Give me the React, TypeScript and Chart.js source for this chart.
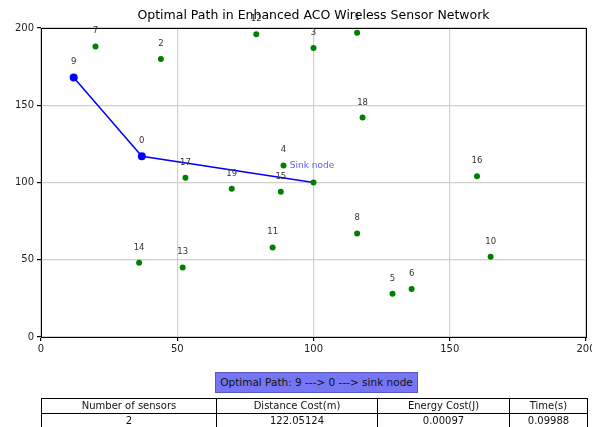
import React, { useEffect, useRef } from "react";
import { Chart, registerables } from "chart.js";

Chart.register(...registerables);

const sensorIds = [0,1,2,3,4,5,6,7,8,9,10,11,12,13,14,15,16,17,18,19];
const sensorX = [37,116,44,100,89,129,136,20,116,12,165,85,79,52,36,88,160,53,118,70];
const sensorY = [117,197,180,187,111,28,31,188,67,168,52,58,196,45,48,94,104,103,142,96];
const pathX = [12, 37, 100];
const pathY = [168, 117, 100];
const sinkX = [100];
const sinkY = [100];
const axisTicks = [0, 50, 100, 150, 200];
const titleText = "Optimal Path in Enhanced ACO Wireless Sensor Network";
const pathText = "Optimal Path: 9 ---> 0 ---> sink node";
const tableHeaders = ["Number of sensors", "Distance Cost(m)", "Energy Cost(J)", "Time(s)"];
const tableValues = ["2", "122.05124", "0.00097", "0.09988"];
const colWidths = [175, 161, 132, 78];

const FONT = "'DejaVu Sans', sans-serif";

export default function App() {
  const ref = useRef<HTMLCanvasElement | null>(null);

  useEffect(() => {
    if (!ref.current) return;
    const labelPlugin = {
      id: "labels",
      afterDatasetsDraw(chart: any) {
        const ctx = chart.ctx;
        const xs = chart.scales.x;
        const ys = chart.scales.y;
        const ca = chart.chartArea;
        ctx.save();
        ctx.strokeStyle = "#000";
        ctx.lineWidth = 1;
        ctx.strokeRect(Math.round(ca.left) + 0.5, Math.round(ca.top) + 0.5, Math.round(ca.right - ca.left), Math.round(ca.bottom - ca.top));
        ctx.font = "8.5px " + FONT;
        ctx.fillStyle = "#333";
        ctx.textAlign = "center";
        ctx.textBaseline = "bottom";
        sensorIds.forEach((id, i) => {
          const px = xs.getPixelForValue(sensorX[i]);
          const py = ys.getPixelForValue(sensorY[i]);
          ctx.fillText(String(id), px, py - 11);
        });
        ctx.fillStyle = "rgba(60,60,255,0.85)";
        ctx.textAlign = "left";
        ctx.textBaseline = "middle";
        ctx.font = "9px " + FONT;
        ctx.fillText("Sink node", xs.getPixelForValue(91.3), ys.getPixelForValue(110.8));
        ctx.fillStyle = "#000";
        ctx.textAlign = "center";
        ctx.font = "12.5px " + FONT;
        ctx.fillText(titleText, (ca.left + ca.right) / 2, 16);
        ctx.restore();
      },
    };

    const chart = new Chart(ref.current, {
      type: "scatter",
      data: {
        datasets: [
          {
            label: "path",
            data: pathX.map((x, i) => ({ x, y: pathY[i] })),
            showLine: true,
            borderColor: "#0000ff",
            backgroundColor: "#0000ff",
            borderWidth: 1.5,
            pointRadius: [4, 4, 0],
            pointBorderWidth: 0,
            order: 2,
          },
          {
            label: "sink",
            data: sinkX.map((x, i) => ({ x, y: sinkY[i] })),
            backgroundColor: "#008000",
            borderColor: "#008000",
            pointRadius: 3,
            pointBorderWidth: 0,
            order: 1,
          },
          {
            label: "sensors",
            data: sensorX.map((x, i) => ({ x, y: sensorY[i] })),
            backgroundColor: "#008000",
            borderColor: "#008000",
            pointRadius: 3,
            pointBorderWidth: 0,
            order: 3,
          },
        ],
      },
      options: {
        responsive: false,
        animation: false,
        layout: { padding: { left: 0, right: 6, top: 28, bottom: 0 } },
        plugins: { legend: { display: false }, tooltip: { enabled: false }, title: { display: false } },
        scales: {
          x: {
            type: "linear",
            min: 0,
            max: 200,
            afterFit(scale: any) { scale.height = 90; scale.paddingLeft = 0; scale.paddingRight = 0; },
            afterBuildTicks(scale: any) { scale.ticks = axisTicks.map((v) => ({ value: v })); },
            grid: { color: "#cfcfcf", tickColor: "#000", tickLength: 4, lineWidth: 1.2 },
            border: { display: true, color: "#000" },
            ticks: { color: "#222", font: { family: FONT, size: 10 }, padding: 2, maxRotation: 0 },
          },
          y: {
            type: "linear",
            min: 0,
            max: 200,
            afterFit(scale: any) { scale.width = 41; scale.paddingTop = 0; scale.paddingBottom = 0; },
            afterBuildTicks(scale: any) { scale.ticks = axisTicks.map((v) => ({ value: v })); },
            grid: { color: "#cfcfcf", tickColor: "#000", tickLength: 4, lineWidth: 1.2 },
            border: { display: true, color: "#000" },
            ticks: { color: "#222", font: { family: FONT, size: 10 }, padding: 3 },
          },
        },
      },
      plugins: [labelPlugin],
    });
    return () => chart.destroy();
  }, []);

  const cell: React.CSSProperties = {
    border: "1px solid #000",
    textAlign: "center",
    padding: 0,
    height: 14,
    lineHeight: "14px",
    fontSize: 10,
    color: "#111",
    fontFamily: FONT,
  };

  return (
    <div style={{ position: "fixed", left: 0, top: 0, width: 592, height: 427, overflow: "hidden", background: "#fff" }}>
      <canvas ref={ref} width={592} height={427} style={{ position: "absolute", left: 0, top: 0, width: 592, height: 427 }} />
      <div
        style={{
          position: "absolute",
          left: 215,
          top: 372,
          width: 201,
          height: 19,
          background: "#7676f4",
          border: "1px solid #5a5ac0",
          fontFamily: FONT,
          fontSize: 10.5,
          lineHeight: "19px",
          textAlign: "center",
          color: "#111",
        }}
      >
        {pathText}
      </div>
      <table
        style={{
          position: "absolute",
          left: 41,
          top: 398,
          borderCollapse: "collapse",
          tableLayout: "fixed",
          width: 546,
        }}
      >
        <colgroup>
          {colWidths.map((w, i) => (
            <col key={i} style={{ width: w }} />
          ))}
        </colgroup>
        <tbody>
          <tr>
            {tableHeaders.map((h, i) => (
              <td key={i} style={cell}>{h}</td>
            ))}
          </tr>
          <tr>
            {tableValues.map((v, i) => (
              <td key={i} style={cell}>{v}</td>
            ))}
          </tr>
        </tbody>
      </table>
    </div>
  );
}
